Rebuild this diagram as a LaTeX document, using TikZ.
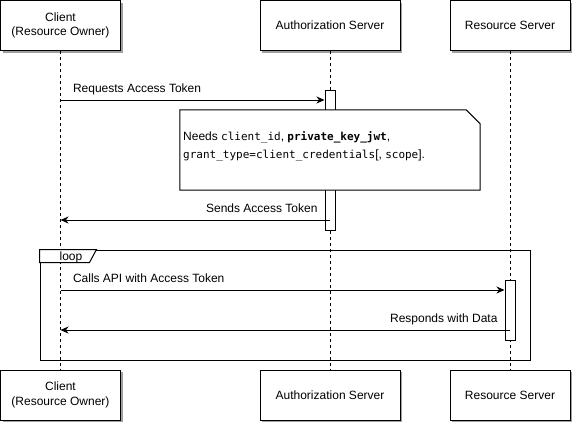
\documentclass[tikz,border=0pt]{standalone}
\usepackage{fontspec}
\setmainfont{Liberation Sans}
\newfontfamily\notemono{DejaVu Sans Mono}
\usepackage{xcolor}
\usepackage{tikz}
\usetikzlibrary{arrows.meta, positioning, calc, shadows}
\definecolor{mydark}{RGB}{0,0,0}
\definecolor{myshadow}{RGB}{160,160,160}
\newcommand{\notecode}[1]{{\notemono\fontsize{11}{14}\selectfont #1}}
\tikzset{
  actor/.style={rectangle, draw=mydark, fill=white,
    minimum width=#1, minimum height=50pt, align=center,
    font=\fontsize{12}{14.5}\selectfont, line width=1pt,
    drop shadow={shadow xshift=2pt, shadow yshift=-2pt, fill=myshadow, opacity=1}},
  actor/.default=120pt,
  lifeline/.style={dashed, dash pattern=on 3pt off 3pt, line width=1pt, color=mydark},
  bar/.style={rectangle, draw=mydark, fill=white, minimum width=10pt,
    inner sep=0pt, line width=1pt},
  msg/.style={-{Stealth[length=8pt, width=7pt, inset=2.5pt]}, line width=1pt, color=mydark},
  lbl/.style={inner sep=0pt, font=\fontsize{12}{14}\selectfont}
}

\begin{document}
\begin{tikzpicture}[x=1pt, y=-1pt,
  notebox/.style={rectangle, inner sep=0pt, minimum width=300pt, minimum height=80pt},
  notetxt/.style={inner sep=0pt, align=left, font=\fontsize{12}{18}\selectfont},
  frame/.style={rectangle, draw=mydark, line width=1pt, inner sep=0pt,
    minimum width=490pt, minimum height=110pt}]

  \useasboundingbox (0,0) rectangle (573,424);

  % Actor Nodes
  \node[actor] (clienttop) at (60.5,25.5) {Client\\(Resource Owner)};
  \node[actor=140pt] (authtop) at (330,25.5) {Authorization Server};
  \node[actor] (restop) at (510,25.5) {Resource Server};

  \node[actor] (clientbot) at (60.5,395) {Client\\(Resource Owner)};
  \node[actor=140pt] (authbot) at (330,395) {Authorization Server};
  \node[actor] (resbot) at (510,395) {Resource Server};

  % Lifelines
  \draw[lifeline] (clienttop) -- (clientbot);
  \draw[lifeline] (authtop) -- (authbot);
  \draw[lifeline] (restop) -- (resbot);

  % Activation Bars
  \node[bar, minimum height=140pt] (authbar) at (330,160) {};
  \node[bar, minimum height=60pt] (resbar) at (510,310) {};

  % Token Request
  \coordinate (req1) at (clienttop |- 0,100);
  \draw[msg] (req1) -- (authbar.west |- req1)
    node[lbl, pos=0, anchor=base west, xshift=12pt, yshift=8pt] {Requests Access Token};

  % Note
  \node[notebox] (note) at (330,150) {};
  \draw[line width=1pt, color=mydark, fill=white] (note.north west)
    -- ([xshift=-14pt]note.north east) -- ([yshift=-14pt]note.north east)
    -- (note.south east) -- (note.south west) -- cycle;
  \node[notetxt, anchor=west] (notetext) at (183,146)
    {Needs \notecode{client\_id}, \notecode{\bfseries private\_key\_jwt},\\
     \notecode{grant\_type=client\_credentials}[, \notecode{scope}].};

  % Token Response
  \coordinate (rep1) at (authtop |- 0,220);
  \draw[msg] (rep1) -- (clienttop |- rep1)
    node[lbl, pos=0, anchor=base east, xshift=-12pt, yshift=8pt] {Sends Access Token};

  % Loop Frame
  \node[frame] (loop) at (285,305) {};
  \draw[line width=1pt, color=mydark, fill=white] (loop.north west)
    -- ([yshift=-13pt]loop.north west)
    -- ([xshift=50pt, yshift=-13pt]loop.north west)
    -- ([xshift=57pt]loop.north west) -- cycle;
  \node[lbl, anchor=base] (looplbl) at (71,260) {loop};

  % API Calls
  \coordinate (req2) at (clienttop |- 0,290);
  \draw[msg] (req2) -- (resbar.west |- req2)
    node[lbl, pos=0, anchor=base west, xshift=12pt, yshift=8pt] {Calls API with Access Token};

  \coordinate (rep2) at (restop |- 0,330);
  \draw[msg] (rep2) -- (clienttop |- rep2)
    node[lbl, pos=0, anchor=base east, xshift=-12pt, yshift=8pt] {Responds with Data};

\end{tikzpicture}
\end{document}
